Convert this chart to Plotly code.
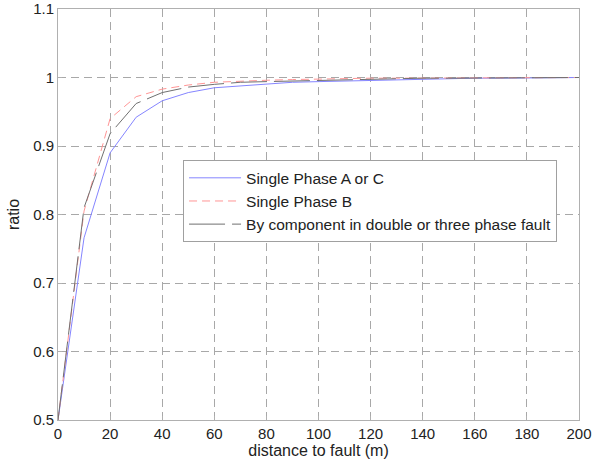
import plotly.graph_objects as go

distance = [0, 10, 20, 30, 40, 50, 60, 70, 80, 90, 100, 110, 120, 130, 140, 150, 160, 170, 180, 190, 200]
phase_ac = [0.5, 0.766, 0.890, 0.942, 0.966, 0.978, 0.985, 0.988, 0.991, 0.993, 0.994, 0.995, 0.996, 0.997, 0.998, 0.998, 0.999, 0.999, 0.999, 1.0, 1.0]
phase_b = [0.5, 0.805, 0.940, 0.972, 0.983, 0.989, 0.993, 0.995, 0.996, 0.997, 0.998, 0.998, 0.999, 0.999, 0.999, 1.0, 1.0, 1.0, 1.0, 1.0, 1.0]
component = [0.5, 0.810, 0.918, 0.962, 0.978, 0.986, 0.990, 0.993, 0.994, 0.995, 0.996, 0.997, 0.998, 0.998, 0.999, 0.999, 0.999, 1.0, 1.0, 1.0, 1.0]

names = ["Single Phase A or C", "Single Phase B", "By component in double or three phase fault"]
x_ticks = list(range(0, 201, 20))
y_ticks = [0.5, 0.6, 0.7, 0.8, 0.9, 1.0, 1.1]
y_labels = ["0.5", "0.6", "0.7", "0.8", "0.9", "1", "1.1"]

FONT = "Liberation Sans, Arial, sans-serif"

fig = go.Figure()
fig.add_trace(go.Scatter(x=distance, y=phase_ac, mode="lines", name=names[0],
                         line=dict(color="#8585ff", width=1)))
fig.add_trace(go.Scatter(x=distance, y=phase_b, mode="lines", name=names[1],
                         line=dict(color="#ff9595", width=1, dash="8px,5px")))
fig.add_trace(go.Scatter(x=distance, y=component, mode="lines", name=names[2],
                         line=dict(color="#707070", width=1, dash="36px,7px")))

axis_common = dict(
    showgrid=True, gridcolor="#a8a8a8", griddash="8px,5px", gridwidth=1,
    showline=True, linecolor="#b0b0b0", linewidth=1, mirror=True,
    ticks="inside", ticklen=4, tickcolor="#b0b0b0",
    zeroline=False, automargin=False,
    tickfont=dict(family=FONT, size=15, color="#222"),
)

fig.update_xaxes(range=[0, 200], tickvals=x_ticks,
                 title=dict(text="distance to fault (m)", standoff=3,
                            font=dict(family=FONT, size=16, color="#222")),
                 **axis_common)
fig.update_yaxes(range=[0.5, 1.1], tickvals=y_ticks, ticktext=y_labels,
                 title=dict(text="ratio", standoff=9,
                            font=dict(family=FONT, size=16, color="#222")),
                 **axis_common)

fig.update_layout(
    width=592, height=466,
    margin=dict(l=58, r=13, t=9, b=46),
    plot_bgcolor="white", paper_bgcolor="white",
    legend=dict(x=0.24, y=0.632, xanchor="left", yanchor="top",
                bgcolor="white", bordercolor="#a0a0a0", borderwidth=1,
                font=dict(family=FONT, size=15.5, color="#222"),
                itemwidth=52, tracegroupgap=0),
    showlegend=True,
)

fig.write_html("out.html")
